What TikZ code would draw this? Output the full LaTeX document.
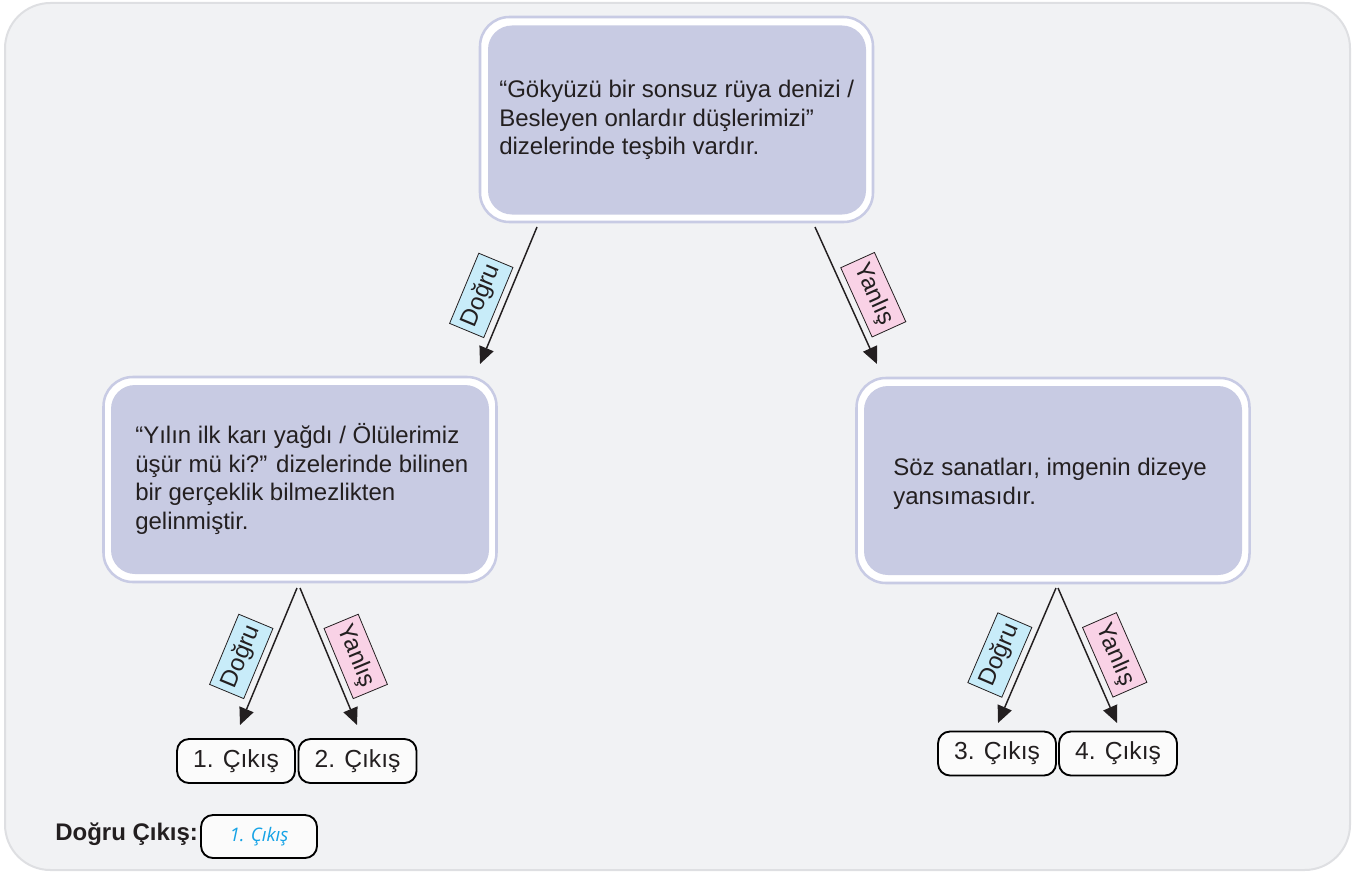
\documentclass[tikz,border=0pt]{standalone}
\usepackage{fontspec}
\setmainfont{Liberation Sans}
\newfontfamily\answerfont{Open Sans}
\usetikzlibrary{arrows.meta}
\definecolor{panelbg}{RGB}{241,242,244}
\definecolor{panelline}{RGB}{222,223,226}
\definecolor{boxline}{RGB}{200,203,228}
\definecolor{boxfill}{RGB}{200,203,227}
\definecolor{dogrufill}{RGB}{200,236,249}
\definecolor{yanlisfill}{RGB}{249,210,230}
\definecolor{answerblue}{RGB}{22,163,230}
\definecolor{textcol}{RGB}{35,31,32}
\begin{document}
\begin{tikzpicture}[x=0.75pt,y=-0.75pt,
 outerbox/.style={draw=boxline, line width=1.9pt, fill=white, rounded corners=22pt, minimum width=294.75pt, minimum height=153.75pt, inner sep=0pt},
 innerbox/.style={fill=boxfill, rounded corners=18pt, minimum width=283.5pt, minimum height=141.75pt, inner sep=0pt},
 qtext/.style={anchor=west, align=left, inner sep=0pt, font=\fontsize{18}{21.4}\selectfont, text=textcol},
 exitbox/.style={draw=black, line width=1.4pt, fill=white!97!gray, rounded corners=9pt, minimum width=88.5pt, minimum height=33pt, inner sep=0pt, font=\fontsize{18.5}{21}\selectfont, text=textcol},
 arr/.style={draw=textcol, line width=1.1pt, -{Triangle[length=12.75pt,width=11.25pt]}},
 lbl/.style={draw=textcol, line width=0.6pt, sloped, pos=0.57, anchor=south, outer sep=5pt, minimum width=57pt, minimum height=27.75pt, inner sep=1.5pt, font=\fontsize{18}{20}\selectfont, text=textcol},
 dlbl/.style={lbl, fill=dogrufill},
 ylbl/.style={lbl, fill=yanlisfill}]
\useasboundingbox (0,0) rectangle (1355,874);
\path[fill=panelbg, draw=panelline, line width=1.5pt, rounded corners=34pt] (5,3) rectangle (1350,870);

% question boxes
\node[outerbox] (q1o) at (676.5,119.5) {};
\node[innerbox] (q1) at (677,120) {};
\node[qtext] (q1t) at (499,120) {“Gökyüzü bir sonsuz rüya denizi /\\Besleyen onlardır düşlerimizi”\\dizelerinde teşbih vardır.};

\node[outerbox] (q2o) at (300,479.5) {};
\node[innerbox] (q2) at (300,479.5) {};
\node[qtext] (q2t) at (135,479) {“Yılın ilk karı yağdı / Ölülerimiz\\üşür mü ki?” dizelerinde bilinen\\bir gerçeklik bilmezlikten\\gelinmiştir.};

\node[outerbox] (q3o) at (1053,480.5) {};
\node[innerbox] (q3) at (1053,480.5) {};
\node[qtext] (q3t) at (893,484) {Söz sanatları, imgenin dizeye\\yansımasıdır.};

% exits
\node[exitbox] (e1) at (236,761) {1. Çıkış};
\node[exitbox] (e2) at (357.5,761) {2. Çıkış};
\node[exitbox] (e3) at (997,753.5) {3. Çıkış};
\node[exitbox] (e4) at (1118,753.5) {4. Çıkış};

% arrow coordinates
\coordinate (a1s) at (537,227); \coordinate (a1e) at (480,364);
\coordinate (a2s) at (815,227); \coordinate (a2e) at (877,364);
\coordinate (a3s) at (297,588); \coordinate (a3e) at (240,725);
\coordinate (a4s) at (300,588); \coordinate (a4e) at (357,725);
\coordinate (a5s) at (1056,588); \coordinate (a5e) at (998,723);
\coordinate (a6s) at (1058,588); \coordinate (a6e) at (1117,723);

\draw[arr] (a1s) -- node[dlbl] (l1) {Doğru} (a1e);
\draw[arr] (a2s) -- node[ylbl] (l2) {Yanlış} (a2e);
\draw[arr] (a3s) -- node[dlbl] (l3) {Doğru} (a3e);
\draw[arr] (a4s) -- node[ylbl] (l4) {Yanlış} (a4e);
\draw[arr] (a5s) -- node[dlbl] (l5) {Doğru} (a5e);
\draw[arr] (a6s) -- node[ylbl] (l6) {Yanlış} (a6e);

% answer
\node[anchor=base west, inner sep=0pt, font=\fontsize{18}{21}\selectfont\bfseries, text=textcol] (ans) at (55,840) {Doğru Çıkış:};
\node[draw=black, line width=1.4pt, fill=white!97!gray, rounded corners=9pt, minimum width=87pt, minimum height=32.25pt, inner sep=0pt, font=\answerfont\itshape\fontsize{14}{16}\selectfont, text=answerblue] (ansbox) at (259,836.5) {1. Çıkış};
\end{tikzpicture}
\end{document}
